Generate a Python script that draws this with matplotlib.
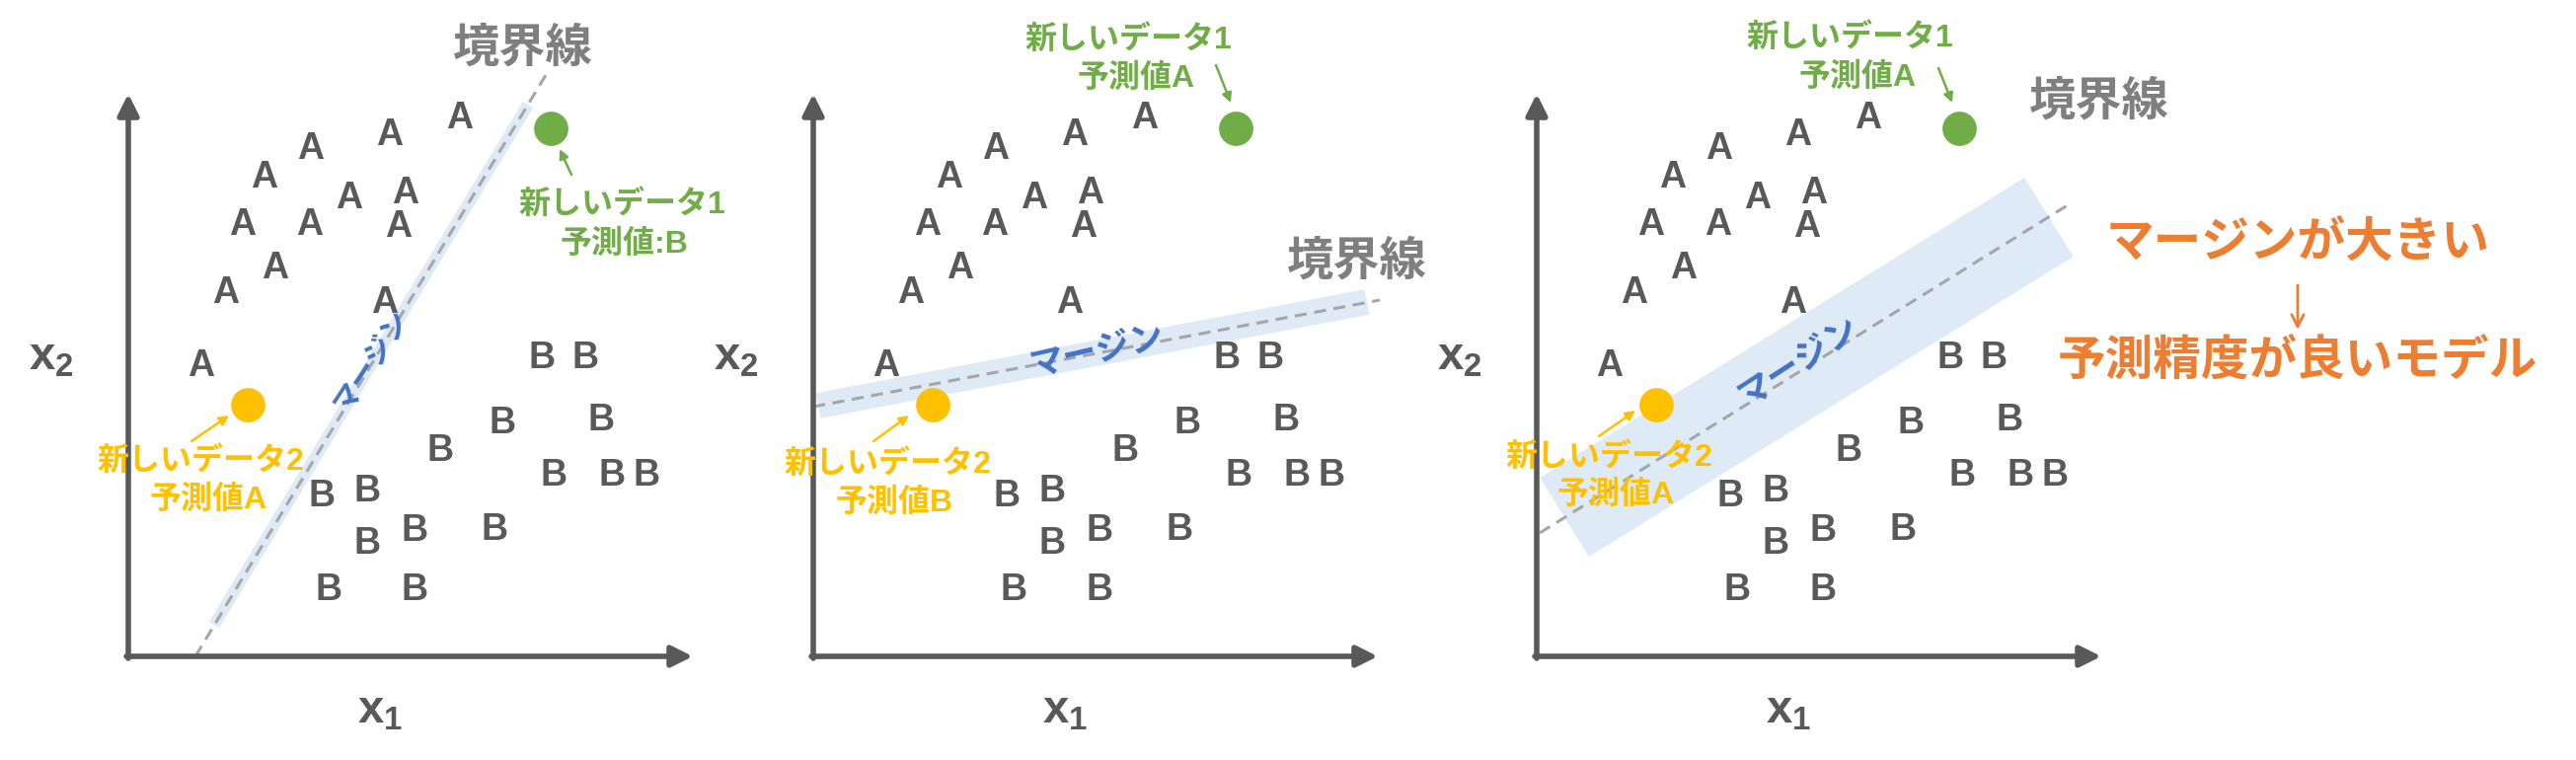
import numpy as np
import matplotlib
matplotlib.use("Agg")
import matplotlib.pyplot as plt
from matplotlib.patches import Polygon

plt.rcParams['font.family'] = ['Noto Sans CJK JP', 'DejaVu Sans']
plt.rcParams['mathtext.fontset'] = 'custom'
plt.rcParams['mathtext.rm'] = 'Liberation Sans'
plt.rcParams['mathtext.bf'] = 'Liberation Sans:bold'
MIX = ['Liberation Sans', 'Noto Sans CJK JP']  # 英数字はArial風、日本語はNoto

# データ (x1, x2) - 3つのパネルで共通
a_x1 = [336, 265, 185, 138, 224, 281, 116, 184, 274, 149, 99, 260, 74]
a_x2 = [545, 528, 514, 485, 464, 469, 437, 437, 435, 393, 368, 358, 294]
b_x1 = [419, 463, 379, 479, 316, 431, 490, 525, 196, 242, 290, 371, 242, 203, 290]
b_x2 = [302, 302, 236, 239, 208, 183, 183, 183, 162, 167, 127, 128, 114, 67, 67]

new1 = (428, 535)   # 新しいデータ1
new2 = (121, 255)   # 新しいデータ2

# 境界線 (始点, 終点) とマージン帯 (始点, 終点, 半幅)
bound_start = [(68, 0), (0, 253), (3, 125)]
bound_end = [(423, 589), (574, 361), (541, 459)]
band_start = [(87, 32), (5, 254), (28, 141)]
band_end = [(405, 559), (561, 359), (519, 445)]
band_half = [6, 13, 47]

pred1 = ['予測値:B', '予測値A', '予測値A']
pred2 = ['予測値A', '予測値B', '予測値A']

# 色
DARK = '#595959'
GRAY = '#7F7F7F'
GREEN = '#70AD47'
YELLOW = '#FFC000'
BLUE = '#4472C4'
BAND = '#DEEBF7'
ORANGE = '#ED7D31'

W, H = 2610, 770
origins = [130, 824, 1557]
OY = 665

fig = plt.figure(figsize=(W / 100, H / 100), dpi=100)

# パネルごとのレイアウト
layout = [
    dict(bl=(400, 616), mg=(246, 300), mg_rot=57, mg_fs=21,
         g1=(500, 458), g2=(502, 417), garr=((449, 488), (437, 514)),
         y1=(73, 198), y2=(81, 158), yarr=((64, 218), (102, 244))),
    dict(bl=(551, 400), mg=(288, 310), mg_rot=13, mg_fs=25,
         g1=(319, 625), g2=(327, 585), garr=((408, 599), (423, 561)),
         y1=(75, 195), y2=(82, 155), yarr=((61, 218), (97, 244))),
    dict(bl=(570, 562), mg=(265, 300), mg_rot=33, mg_fs=25,
         g1=(317, 627), g2=(325, 586), garr=((407, 596), (421, 561)),
         y1=(73, 202), y2=(80, 163), yarr=((63, 223), (100, 249))),
]

XMIN, XMAX = -125, 600
for i, ox in enumerate(origins):
    L = layout[i]
    ax = fig.add_axes([(ox + XMIN) / W, 0, (XMAX - XMIN) / W, 1])
    ax.set_xlim(XMIN, XMAX)
    ax.set_ylim(OY - H, OY)
    ax.axis('off')
    ax.patch.set_alpha(0)

    # 軸の矢印
    ax.annotate('', xy=(572, 0), xytext=(-2, 0),
                arrowprops=dict(arrowstyle='-|>', lw=4, color=DARK,
                                mutation_scale=32, shrinkA=0, shrinkB=0))
    ax.annotate('', xy=(0, 570), xytext=(0, -2),
                arrowprops=dict(arrowstyle='-|>', lw=4, color=DARK,
                                mutation_scale=32, shrinkA=0, shrinkB=0))
    ax.text(-78, 304, r'$\mathbf{x}_\mathbf{2}$', fontsize=34, color=DARK,
            ha='center', va='center')
    ax.text(255, -54, r'$\mathbf{x}_\mathbf{1}$', fontsize=34, color=DARK,
            ha='center', va='center')

    # マージン帯
    p0 = np.array(band_start[i], float)
    p1 = np.array(band_end[i], float)
    d = (p1 - p0) / np.linalg.norm(p1 - p0)
    n = np.array([-d[1], d[0]]) * band_half[i]
    ax.add_patch(Polygon([p0 + n, p1 + n, p1 - n, p0 - n], closed=True,
                         facecolor=BAND, edgecolor='none', zorder=1))

    # 境界線
    bx = [bound_start[i][0], bound_end[i][0]]
    by = [bound_start[i][1], bound_end[i][1]]
    ax.plot(bx, by, color='#A6A6A6', lw=2.2, ls=(0, (4, 2.5)), zorder=2)
    ax.text(*L['bl'], '境界線', fontsize=34, fontweight='bold', color=GRAY,
            ha='center', va='center')

    ax.text(*L['mg'], 'マージン', fontsize=L['mg_fs'], fontweight='bold',
            color=BLUE, ha='center', va='center', rotation=L['mg_rot'],
            rotation_mode='anchor', zorder=4)

    # A / B
    for x, y in zip(a_x1, a_x2):
        ax.text(x, y, 'A', family='Liberation Sans', fontweight='bold',
                fontsize=27, color=DARK, ha='center', va='center', zorder=3)
    for x, y in zip(b_x1, b_x2):
        ax.text(x, y, 'B', family='Liberation Sans', fontweight='bold',
                fontsize=27, color=DARK, ha='center', va='center', zorder=3)

    # 新しいデータ
    ax.plot(*new1, 'o', color=GREEN, markersize=24, zorder=5)
    ax.plot(*new2, 'o', color=YELLOW, markersize=24, zorder=5)

    ax.text(*L['g1'], '新しいデータ1', family=MIX, fontsize=23, fontweight='bold',
            color=GREEN, ha='center', va='center')
    ax.text(*L['g2'], pred1[i], family=MIX, fontsize=23, fontweight='bold',
            color=GREEN, ha='center', va='center')
    ax.annotate('', xy=L['garr'][1], xytext=L['garr'][0],
                arrowprops=dict(arrowstyle='-|>', lw=1.8, color=GREEN,
                                mutation_scale=14, shrinkA=0, shrinkB=0))

    ax.text(*L['y1'], '新しいデータ2', family=MIX, fontsize=23, fontweight='bold',
            color=YELLOW, ha='center', va='center', zorder=6)
    ax.text(*L['y2'], pred2[i], family=MIX, fontsize=23, fontweight='bold',
            color=YELLOW, ha='center', va='center', zorder=6)
    ax.annotate('', xy=L['yarr'][1], xytext=L['yarr'][0],
                arrowprops=dict(arrowstyle='-|>', lw=1.8, color=YELLOW,
                                mutation_scale=14, shrinkA=0, shrinkB=0))

    if i == 2:
        ax.text(771, 419, 'マージンが大きい', fontsize=35, fontweight='bold',
                color=ORANGE, ha='center', va='center')
        ax.text(771, 299, '予測精度が良いモデル', fontsize=35, fontweight='bold',
                color=ORANGE, ha='center', va='center')
        ax.annotate('', xy=(771, 331), xytext=(771, 376),
                    annotation_clip=False,
                    arrowprops=dict(arrowstyle='->', lw=2, color=ORANGE,
                                    mutation_scale=22, shrinkA=0, shrinkB=0))

fig.savefig('out.png', dpi=100, facecolor='white')
